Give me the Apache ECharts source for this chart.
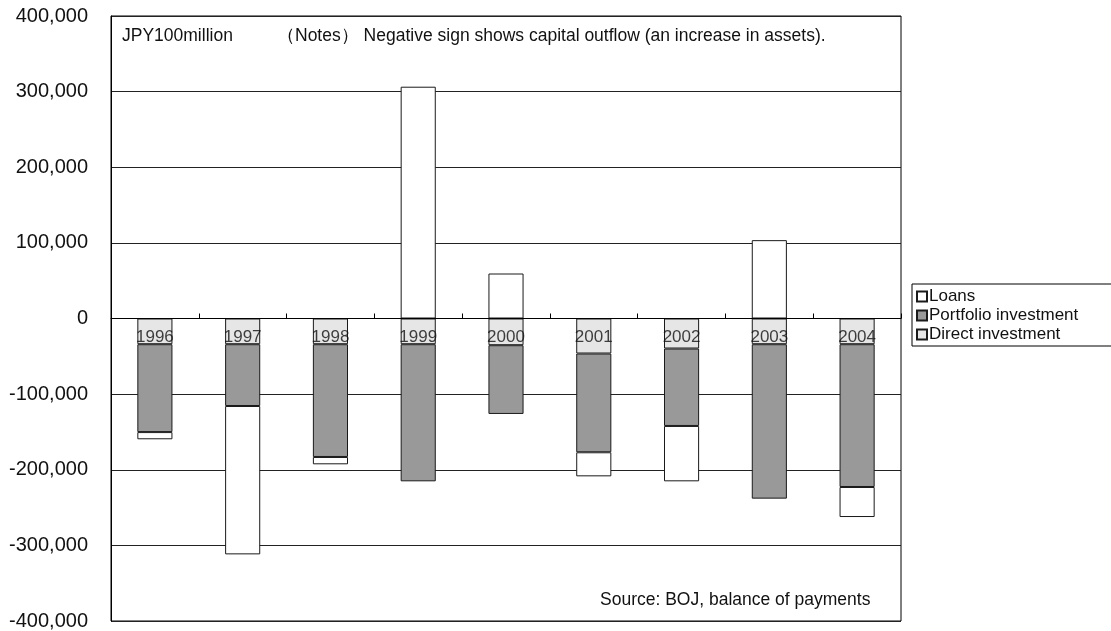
<!DOCTYPE html>
<html>
<head>
<meta charset="utf-8">
<script src="https://cdn.jsdelivr.net/npm/echarts@6/dist/echarts.min.js"></script>
<style>
html,body{margin:0;padding:0;background:#fff;}
#c{width:1111px;height:631px;}
</style>
</head>
<body>
<div id="c"></div>
<script>
const years = ['1996','1997','1998','1999','2000','2001','2002','2003','2004'];
const directInvestment = [-34000, -34000, -34000, -34000, -35300, -46300, -39700, -34000, -34000];
const portfolioInvestment = [-116200, -81700, -149100, -181300, -90900, -130600, -102400, -204200, -188800];
const loans = [-9500, -196200, -9700, 306500, 59500, -31800, -73200, 103600, -39700];
const yMin = -400000, yMax = 400000, yStep = 100000;

const FONT = '"Liberation Sans", Arial, sans-serif';
const chart = echarts.init(document.getElementById('c'), null, {renderer: 'canvas'});

function barSeries(name, data, color) {
  return {
    name: name,
    type: 'bar',
    stack: 'total',
    data: data,
    barWidth: '40%',
    itemStyle: {color: color, borderColor: '#1a1a1a', borderWidth: 1},
    emphasis: {disabled: true}
  };
}

chart.setOption({
  animation: false,
  backgroundColor: '#fff',
  textStyle: {fontFamily: FONT},
  grid: {left: 111, right: 210, top: 16, bottom: 10, show: true, borderColor: '#000', borderWidth: 1,
    containLabel: false, outerBoundsMode: 'none'},
  legend: {
    orient: 'vertical',
    left: 912, top: 284,
    data: ['Loans', 'Portfolio investment', 'Direct investment'],
    icon: 'rect',
    itemWidth: 10, itemHeight: 10, itemGap: 2,
    padding: [4, 60, 3, 4],
    borderColor: '#000', borderWidth: 1,
    textStyle: {fontSize: 17, color: '#111', fontFamily: FONT, padding: [0, 0, 0, -3]},
    selectedMode: false
  },
  xAxis: {
    type: 'category',
    data: years,
    z: 5,
    axisLine: {onZero: true, lineStyle: {color: '#000', width: 1}},
    axisTick: {show: true, inside: true, length: 5, lineStyle: {color: '#000'}},
    axisLabel: {show: false},
    splitLine: {show: false}
  },
  yAxis: {
    type: 'value',
    min: yMin, max: yMax, interval: yStep,
    axisLine: {show: true, lineStyle: {color: '#000'}},
    axisTick: {show: false},
    axisLabel: {fontSize: 20, color: '#111', margin: 23, fontFamily: FONT,
      formatter: v => v.toLocaleString('en-US')},
    splitLine: {show: true, lineStyle: {color: '#222', width: 1}}
  },
  series: [
    barSeries('Direct investment', directInvestment, '#e6e6e6'),
    barSeries('Portfolio investment', portfolioInvestment, '#999999'),
    barSeries('Loans', loans, '#ffffff'),
    {
      name: 'yearLabels',
      type: 'scatter',
      z: 10,
      symbolSize: 0,
      silent: true,
      data: years.map(y => [y, 0]),
      label: {show: true, position: 'bottom', distance: 10, formatter: p => p.value[0],
        fontSize: 17, color: '#111', fontFamily: FONT},
      emphasis: {disabled: true}
    }
  ],
  graphic: [
    {type: 'text', left: 122, top: 27, style: {text: 'JPY100million', font: '17.5px ' + FONT, fill: '#111'}},
    {type: 'text', left: 277, top: 27, style: {text: '（Notes） Negative sign shows capital outflow (an increase in assets).', font: '17.5px ' + FONT, fill: '#111'}},
    {type: 'text', left: 600, top: 591, style: {text: 'Source: BOJ, balance of payments', font: '17.5px ' + FONT, fill: '#111'}}
  ]
});
</script>
</body>
</html>
